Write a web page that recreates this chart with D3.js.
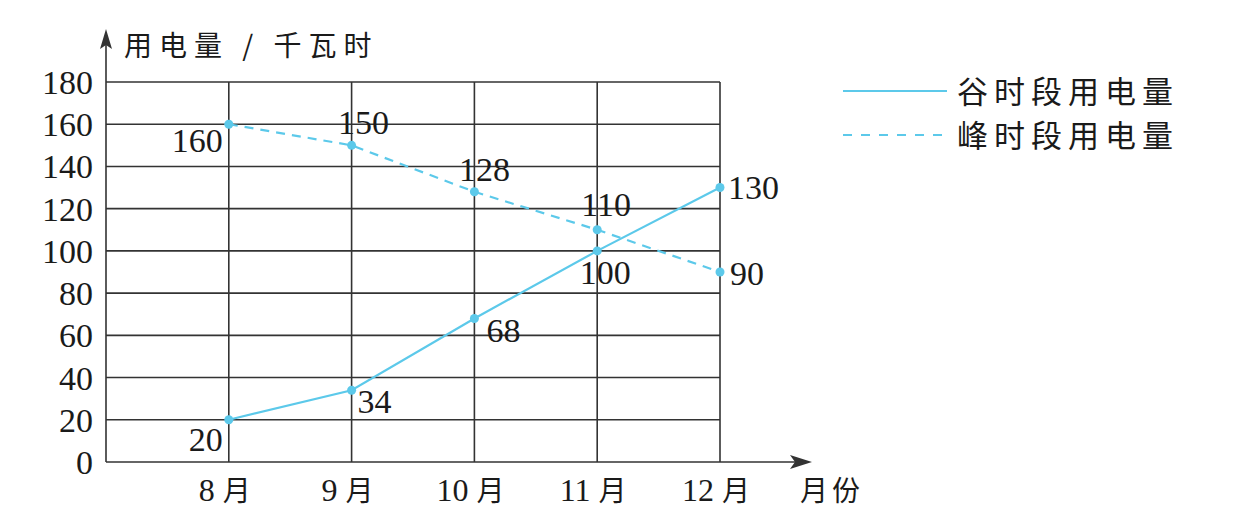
<!DOCTYPE html>
<html lang="zh">
<head>
  <meta charset="UTF-8">
  <title>用电量</title>
  <script src="https://d3js.org/d3.v7.min.js"></script>
  <style>
    body { margin: 0; background: #fff; }
    .num { font-family: "Liberation Serif", "DejaVu Serif", serif; font-size: 34px; fill: #1a1a1a; }
    .cjk { font-family: "Noto Sans CJK SC", sans-serif; fill: #1a1a1a; }
    .grid line { stroke: #333; stroke-width: 1.6; }
  </style>
</head>
<body>
  <div id="chart"></div>
  <script>
    // Data
    const months = [8, 9, 10, 11, 12];
    const monthLabels = ["8 月", "9 月", "10 月", "11 月", "12 月"];
    const valley = [20, 34, 68, 100, 130];   // 谷时段用电量
    const peak = [160, 150, 128, 110, 90];   // 峰时段用电量
    const yTicks = [0, 20, 40, 60, 80, 100, 120, 140, 160, 180];
    // label offsets per point [dx, dy, anchor]
    const valleyLabelPos = [[-6, 31, "end"], [6, 23, "start"], [12, 24, "start"], [8, 33, "middle"], [8, 11, "start"]];
    const peakLabelPos = [[-6, 28, "end"], [12, -11, "middle"], [10, -11, "middle"], [9, -14, "middle"], [10, 13, "start"]];

    const width = 1258, height = 516;
    const color = "#5cc9ea";

    const svg = d3.select("#chart").append("svg")
      .attr("width", width)
      .attr("height", height);

    const x = d3.scaleLinear().domain([7, 12]).range([106, 720]);
    const y = d3.scaleLinear().domain([0, 180]).range([462, 82]);

    // grid
    const grid = svg.append("g").attr("class", "grid");
    grid.selectAll(".h").data(yTicks.filter(d => d > 0)).enter().append("line")
      .attr("x1", x(7)).attr("x2", x(12))
      .attr("y1", d => y(d)).attr("y2", d => y(d));
    grid.selectAll(".v").data(months).enter().append("line")
      .attr("x1", d => x(d)).attr("x2", d => x(d))
      .attr("y1", y(0)).attr("y2", y(180));

    // axes with arrows
    svg.append("line").attr("x1", x(7)).attr("x2", x(7))
      .attr("y1", y(0)).attr("y2", 44)
      .attr("stroke", "#333").attr("stroke-width", 1.6);
    svg.append("path")
      .attr("d", `M${x(7)},29 L${x(7) - 6},49 L${x(7)},45 L${x(7) + 6},49 Z`)
      .attr("fill", "#333");
    svg.append("line").attr("x1", x(7)).attr("x2", 796)
      .attr("y1", y(0)).attr("y2", y(0))
      .attr("stroke", "#333").attr("stroke-width", 1.6);
    svg.append("path")
      .attr("d", `M812,${y(0)} L790,${y(0) - 7} L795,${y(0)} L790,${y(0) + 7} Z`)
      .attr("fill", "#333");

    // y tick labels
    svg.selectAll(".ytick").data(yTicks).enter().append("text")
      .attr("class", "num")
      .attr("x", 93)
      .attr("y", d => y(d) + 12)
      .attr("text-anchor", "end")
      .text(d => d);

    // x tick labels
    svg.selectAll(".xtick").data(months).enter().append("text")
      .attr("class", "cjk")
      .attr("x", d => x(d) - 4)
      .attr("y", 501)
      .attr("text-anchor", "middle")
      .style("font-size", "28px")
      .each(function (d, i) {
        const parts = monthLabels[i].split(" ");
        d3.select(this).append("tspan").attr("class", "num").style("font-size", "32px").text(parts[0]);
        d3.select(this).append("tspan").attr("dx", 8).text(parts[1]);
      });

    svg.append("text").attr("class", "cjk")
      .attr("x", 800).attr("y", 501)
      .style("font-size", "28px").style("letter-spacing", "4px")
      .text("月份");

    // y axis title
    svg.append("text").attr("class", "cjk")
      .attr("x", 124).attr("y", 56)
      .style("font-size", "28px").style("letter-spacing", "7px")
      .text("用电量 / 千瓦时");

    const line = d3.line().x((d, i) => x(months[i])).y(d => y(d));

    svg.append("path").datum(valley)
      .attr("d", line).attr("fill", "none")
      .attr("stroke", color).attr("stroke-width", 2.2);
    svg.append("path").datum(peak)
      .attr("d", line).attr("fill", "none")
      .attr("stroke", color).attr("stroke-width", 2.2)
      .attr("stroke-dasharray", "9,7");

    [valley, peak].forEach(series => {
      svg.selectAll(null).data(series).enter().append("circle")
        .attr("cx", (d, i) => x(months[i]))
        .attr("cy", d => y(d))
        .attr("r", 4.5)
        .attr("fill", color);
    });

    // value labels
    svg.selectAll(null).data(valley).enter().append("text")
      .attr("class", "num")
      .attr("x", (d, i) => x(months[i]) + valleyLabelPos[i][0])
      .attr("y", (d, i) => y(d) + valleyLabelPos[i][1])
      .attr("text-anchor", (d, i) => valleyLabelPos[i][2])
      .text(d => d);
    svg.selectAll(null).data(peak).enter().append("text")
      .attr("class", "num")
      .attr("x", (d, i) => x(months[i]) + peakLabelPos[i][0])
      .attr("y", (d, i) => y(d) + peakLabelPos[i][1])
      .attr("text-anchor", (d, i) => peakLabelPos[i][2])
      .text(d => d);

    // legend
    const legend = [
      { name: "谷时段用电量", dash: null, y: 91 },
      { name: "峰时段用电量", dash: "9,9", y: 135 }
    ];
    const lg = svg.append("g").selectAll("g").data(legend).enter().append("g");
    lg.append("line")
      .attr("x1", 843).attr("x2", 947)
      .attr("y1", d => d.y).attr("y2", d => d.y)
      .attr("stroke", color).attr("stroke-width", 2.2)
      .attr("stroke-dasharray", d => d.dash);
    lg.append("text").attr("class", "cjk")
      .attr("x", 957).attr("y", d => d.y + 12)
      .style("font-size", "31px").style("letter-spacing", "6px")
      .text(d => d.name);
  </script>
</body>
</html>
